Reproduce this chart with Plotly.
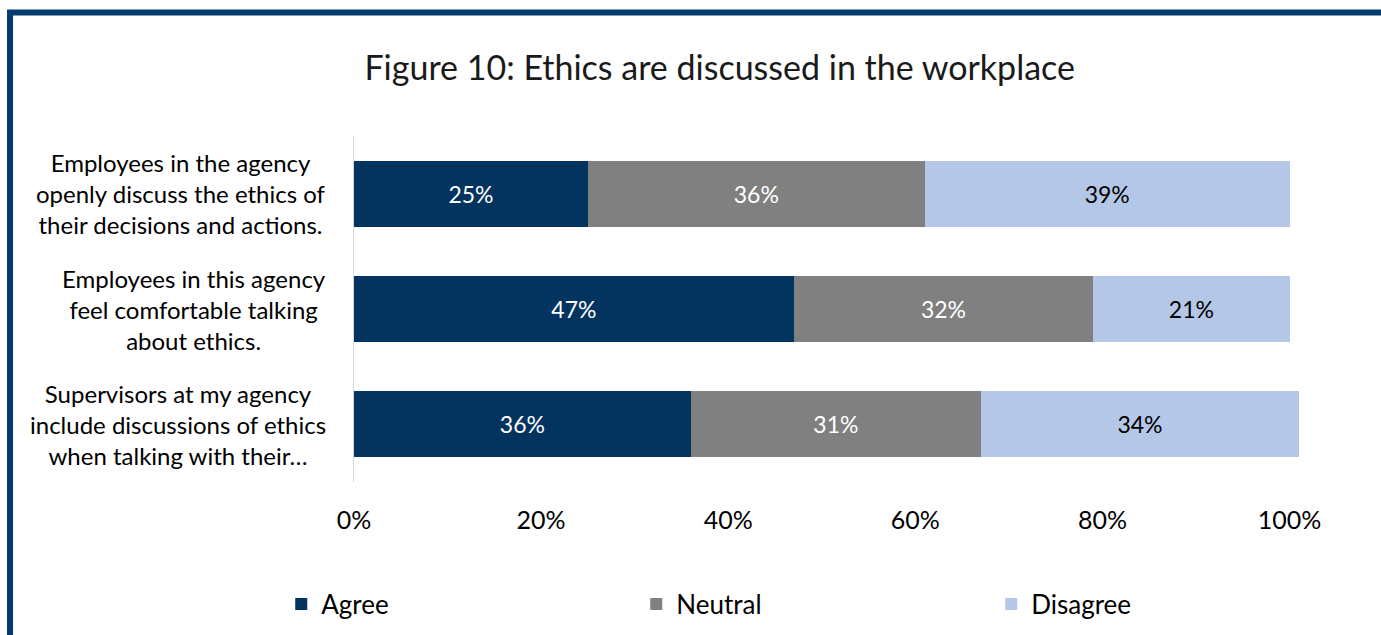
import plotly.graph_objects as go

# Survey statements (top to bottom) and response shares in percent
statements = [
    "Employees in the agency<br>openly discuss the ethics of<br>their decisions and actions.",
    "Employees in this agency<br>feel comfortable talking<br>about ethics.",
    "Supervisors at my agency<br>include discussions of ethics<br>when talking with their…",
]
agree = [25, 47, 36]
neutral = [36, 32, 31]
disagree = [39, 21, 34]
x_ticks = [0, 20, 40, 60, 80, 100]

series = [
    ("Agree", agree, "#03335f", "white"),
    ("Neutral", neutral, "#808080", "white"),
    ("Disagree", disagree, "#b4c7e7", "black"),
]

cats = [f"s{i}" for i in range(len(statements))]
FONT = "Lato, 'Open Sans', sans-serif"

fig = go.Figure()
for name, vals, color, tcolor in series:
    fig.add_trace(go.Bar(
        y=cats, x=vals, name=name, orientation="h",
        marker=dict(color=color, line=dict(width=0)),
        width=0.57,
        text=[f"{v}%" for v in vals], texttemplate="%{text}",
        textposition="inside", insidetextanchor="middle",
        textfont=dict(color=tcolor, size=23, family=FONT),
        hoverinfo="skip",
    ))

# Statement labels to the left of the bars, centred line by line
for c, label in zip(cats, statements):
    fig.add_annotation(
        x=0, xref="paper", xshift=-26, y=c, yref="y",
        text=label, showarrow=False, xanchor="right", yanchor="middle",
        align="center", font=dict(size=24, family=FONT, color="black"),
    )

# Dark frame along the top and left edges
fig.add_shape(type="rect", xref="paper", yref="paper",
              x0=-0.364, x1=1.3, y0=-0.6, y1=1.357,
              line=dict(color="#053a6f", width=6), fillcolor="rgba(0,0,0,0)",
              layer="above")

fig.update_layout(
    width=1381, height=635,
    margin=dict(l=354, r=82, t=136, b=153, autoexpand=False),
    paper_bgcolor="white", plot_bgcolor="white",
    barmode="stack", bargap=0.43,
    font=dict(family=FONT, color="black"),
    title=dict(text="Figure 10: Ethics are discussed in the workplace",
               x=0.387, xref="paper", xanchor="center",
               y=1 - 68 / 635, yref="container", yanchor="middle",
               font=dict(size=34, family=FONT, color="#1a1a1a")),
    xaxis=dict(range=[0, 101], tickmode="array", tickvals=x_ticks,
               ticktext=[f"{t}%" for t in x_ticks],
               showgrid=False, zeroline=False,
               showline=False, ticks="", ticklabelstandoff=21,
               tickfont=dict(size=25, family=FONT, color="black")),
    yaxis=dict(autorange="reversed", showticklabels=False, showgrid=False,
               zeroline=False, showline=True, linecolor="#d9d9d9", linewidth=1,
               ticks=""),
    legend=dict(orientation="h", x=-0.077, xanchor="left",
                y=-0.353, yanchor="middle", entrywidth=310,
                font=dict(size=26, family=FONT, color="black"),
                traceorder="normal"),
)

fig.write_html("out.html")
